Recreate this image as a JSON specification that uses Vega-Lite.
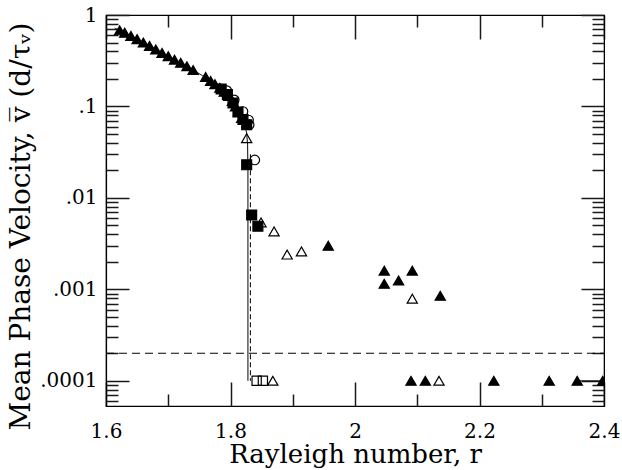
{
  "$schema": "https://vega.github.io/schema/vega-lite/v6.json",
  "width": 498,
  "height": 391,
  "autosize": "none",
  "padding": {"left": 106, "top": 15, "right": 18, "bottom": 64},
  "background": "white",
  "config": {
    "view": {"stroke": "black", "strokeWidth": 1.2},
    "font": "DejaVu Serif",
    "axis": {
      "grid": false,
      "labelColor": "black",
      "titleColor": "black",
      "labelFont": "DejaVu Serif",
      "titleFont": "DejaVu Serif",
      "labelFontSize": 20,
      "titleFontSize": 27,
      "titleFontWeight": "normal"
    }
  },
  "datasets": {
    "pts": [
      {"r": 1.622, "v": 0.68, "m": "tri", "f": "filled"},
      {"r": 1.63, "v": 0.64, "m": "tri", "f": "filled"},
      {"r": 1.64, "v": 0.59, "m": "tri", "f": "filled"},
      {"r": 1.65, "v": 0.545, "m": "tri", "f": "filled"},
      {"r": 1.66, "v": 0.5, "m": "tri", "f": "filled"},
      {"r": 1.67, "v": 0.46, "m": "tri", "f": "filled"},
      {"r": 1.68, "v": 0.42, "m": "tri", "f": "filled"},
      {"r": 1.69, "v": 0.385, "m": "tri", "f": "filled"},
      {"r": 1.7, "v": 0.355, "m": "tri", "f": "filled"},
      {"r": 1.71, "v": 0.325, "m": "tri", "f": "filled"},
      {"r": 1.72, "v": 0.3, "m": "tri", "f": "filled"},
      {"r": 1.73, "v": 0.275, "m": "tri", "f": "filled"},
      {"r": 1.74, "v": 0.25, "m": "tri", "f": "filled"},
      {"r": 1.76, "v": 0.21, "m": "tri", "f": "filled"},
      {"r": 1.768, "v": 0.19, "m": "tri", "f": "filled"},
      {"r": 1.775, "v": 0.175, "m": "tri", "f": "filled"},
      {"r": 1.783, "v": 0.16, "m": "tri", "f": "filled"},
      {"r": 1.79, "v": 0.145, "m": "tri", "f": "filled"},
      {"r": 1.797, "v": 0.13, "m": "tri", "f": "filled"},
      {"r": 1.803, "v": 0.115, "m": "tri", "f": "filled"},
      {"r": 1.808, "v": 0.1, "m": "tri", "f": "filled"},
      {"r": 1.813, "v": 0.088, "m": "tri", "f": "filled"},
      {"r": 1.818, "v": 0.075, "m": "tri", "f": "filled"},
      {"r": 1.785, "v": 0.155, "m": "sq", "f": "filled"},
      {"r": 1.795, "v": 0.135, "m": "sq", "f": "filled"},
      {"r": 1.804, "v": 0.109, "m": "sq", "f": "filled"},
      {"r": 1.812, "v": 0.087, "m": "sq", "f": "filled"},
      {"r": 1.82, "v": 0.072, "m": "sq", "f": "filled"},
      {"r": 1.826, "v": 0.063, "m": "sq", "f": "filled"},
      {"r": 1.826, "v": 0.023, "m": "sq", "f": "filled"},
      {"r": 1.834, "v": 0.0065, "m": "sq", "f": "filled"},
      {"r": 1.844, "v": 0.0049, "m": "sq", "f": "filled"},
      {"r": 1.794, "v": 0.149, "m": "circ", "f": "open"},
      {"r": 1.806, "v": 0.118, "m": "circ", "f": "open"},
      {"r": 1.82, "v": 0.088, "m": "circ", "f": "open"},
      {"r": 1.829, "v": 0.071, "m": "circ", "f": "open"},
      {"r": 1.83, "v": 0.063, "m": "circ", "f": "open"},
      {"r": 1.839, "v": 0.026, "m": "circ", "f": "open"},
      {"r": 1.826, "v": 0.045, "m": "tri", "f": "open"},
      {"r": 1.849, "v": 0.0054, "m": "tri", "f": "open"},
      {"r": 1.87, "v": 0.0043, "m": "tri", "f": "open"},
      {"r": 1.891, "v": 0.0024, "m": "tri", "f": "open"},
      {"r": 1.914, "v": 0.0026, "m": "tri", "f": "open"},
      {"r": 2.092, "v": 0.00079, "m": "tri", "f": "open"},
      {"r": 1.868, "v": 0.0001, "m": "tri", "f": "open"},
      {"r": 2.135, "v": 0.0001, "m": "tri", "f": "open"},
      {"r": 1.957, "v": 0.003, "m": "tri", "f": "filled"},
      {"r": 2.047, "v": 0.0016, "m": "tri", "f": "filled"},
      {"r": 2.047, "v": 0.00115, "m": "tri", "f": "filled"},
      {"r": 2.07, "v": 0.00125, "m": "tri", "f": "filled"},
      {"r": 2.092, "v": 0.0016, "m": "tri", "f": "filled"},
      {"r": 2.137, "v": 0.00085, "m": "tri", "f": "filled"},
      {"r": 2.09, "v": 0.0001, "m": "tri", "f": "filled"},
      {"r": 2.113, "v": 0.0001, "m": "tri", "f": "filled"},
      {"r": 2.223, "v": 0.0001, "m": "tri", "f": "filled"},
      {"r": 2.312, "v": 0.0001, "m": "tri", "f": "filled"},
      {"r": 2.357, "v": 0.0001, "m": "tri", "f": "filled"},
      {"r": 2.398, "v": 0.0001, "m": "tri", "f": "filled"},
      {"r": 1.842, "v": 0.0001, "m": "sqs", "f": "open"},
      {"r": 1.852, "v": 0.0001, "m": "sqs", "f": "open"}
    ],
    "lines": [
      {"s": "fit", "i": 0, "r": 1.614, "v": 0.72},
      {"s": "fit", "i": 1, "r": 1.65, "v": 0.545},
      {"s": "fit", "i": 2, "r": 1.7, "v": 0.355},
      {"s": "fit", "i": 3, "r": 1.74, "v": 0.25},
      {"s": "fit", "i": 4, "r": 1.76, "v": 0.207},
      {"s": "fit", "i": 5, "r": 1.78, "v": 0.165},
      {"s": "fit", "i": 6, "r": 1.79, "v": 0.146},
      {"s": "fit", "i": 7, "r": 1.8, "v": 0.125},
      {"s": "fit", "i": 8, "r": 1.81, "v": 0.101},
      {"s": "fit", "i": 9, "r": 1.818, "v": 0.079},
      {"s": "fit", "i": 10, "r": 1.823, "v": 0.063},
      {"s": "fit", "i": 11, "r": 1.826, "v": 0.051},
      {"s": "fit", "i": 12, "r": 1.8275, "v": 0.038},
      {"s": "fit", "i": 13, "r": 1.828, "v": 0.02},
      {"s": "fit", "i": 14, "r": 1.828, "v": 0.0001},
      {"s": "vd", "i": 0, "r": 1.832, "v": 0.03},
      {"s": "vd", "i": 1, "r": 1.832, "v": 0.0001},
      {"s": "hd", "i": 0, "r": 1.6, "v": 0.0002},
      {"s": "hd", "i": 1, "r": 2.4, "v": 0.0002},
      {"s": "seg", "i": 0, "r": 2.357, "v": 0.0001},
      {"s": "seg", "i": 1, "r": 2.4, "v": 0.0001}
    ]
  },
  "resolve": {"scale": {"x": "independent", "y": "independent"}},
  "layer": [
    {
      "data": {"name": "lines"},
      "mark": {"type": "line", "color": "black", "strokeWidth": 1},
      "encoding": {
        "x": {"field": "r", "type": "quantitative",
          "scale": {"domain": [1.6, 2.4], "nice": false, "zero": false},
          "axis": {"orient": "bottom", "values": [1.6, 1.8, 2, 2.2, 2.4], "format": "~g", "tickSize": -24, "tickColor": "#1a1a1a", "tickWidth": 1.5, "domainColor": "black", "domainWidth": 1.2, "labelPadding": 39, "labelFlush": false, "title": "Rayleigh number, r", "titleFontSize": 26, "titlePadding": 0}},
        "y": {"field": "v", "type": "quantitative",
          "scale": {"type": "log", "domain": [0.000053, 1], "nice": false},
          "axis": {"orient": "left", "values": [0.0001, 0.001, 0.01, 0.1, 1], "labelExpr": "replace(format(datum.value, '~g'), '0.', '.')", "tickSize": -23, "tickColor": "#1a1a1a", "tickWidth": 1.5, "domainColor": "black", "domainWidth": 1.2, "labelPadding": 32, "labelFlush": false, "title": "Mean Phase Velocity, v\u0305 (d/\u03c4\u1d65)", "titleFontSize": 28, "titleX": -71, "titleY": 211}},
        "detail": {"field": "s"},
        "order": {"field": "i"},
        "strokeDash": {"field": "s", "scale": {"domain": ["fit", "vd", "hd", "seg"], "range": [[1, 0], [5, 3], [8, 5], [1, 0]]}, "legend": null}
      }
    },
    {
      "data": {"name": "pts"},
      "mark": {"type": "point", "filled": true, "stroke": "black", "strokeWidth": 1.2, "opacity": 1, "clip": true},
      "encoding": {
        "x": {"field": "r", "type": "quantitative",
          "scale": {"domain": [1.6, 2.4], "nice": false, "zero": false},
          "axis": {"orient": "bottom", "values": [1.7, 1.9, 2.1, 2.3], "tickSize": -12, "tickColor": "#1a1a1a", "tickWidth": 1.5, "domainColor": "black", "labelExpr": "''", "title": null}},
        "y": {"field": "v", "type": "quantitative",
          "scale": {"type": "log", "domain": [0.000053, 1], "nice": false},
          "axis": {"orient": "left", "values": [0.00006, 0.00007, 0.00008, 0.00009, 0.0002, 0.0003, 0.0004, 0.0005, 0.0006, 0.0007, 0.0008, 0.0009, 0.002, 0.003, 0.004, 0.005, 0.006, 0.007, 0.008, 0.009, 0.02, 0.03, 0.04, 0.05, 0.06, 0.07, 0.08, 0.09, 0.2, 0.3, 0.4, 0.5, 0.6, 0.7, 0.8, 0.9], "tickSize": -12, "tickColor": "#1a1a1a", "tickWidth": 1.5, "domainColor": "black", "labelExpr": "''", "title": null}},
        "shape": {"field": "m", "scale": {"domain": ["tri", "sq", "circ", "sqs"], "range": ["triangle-up", "square", "circle", "square"]}, "legend": null},
        "size": {"field": "m", "type": "nominal", "scale": {"domain": ["tri", "sq", "circ", "sqs"], "range": [105, 85, 110, 50]}, "legend": null},
        "fill": {"field": "f", "scale": {"domain": ["filled", "open"], "range": ["black", "transparent"]}, "legend": null}
      }
    },
    {
      "data": {"name": "pts"},
      "mark": {"type": "point", "opacity": 0},
      "encoding": {
        "x": {"field": "r", "type": "quantitative",
          "scale": {"domain": [1.6, 2.4], "nice": false, "zero": false},
          "axis": {"orient": "top", "values": [1.6, 1.8, 2, 2.2, 2.4], "tickSize": -24, "tickColor": "#1a1a1a", "tickWidth": 1.5, "domainColor": "black", "labelExpr": "''", "title": null}},
        "y": {"field": "v", "type": "quantitative",
          "scale": {"type": "log", "domain": [0.000053, 1], "nice": false},
          "axis": {"orient": "right", "values": [0.0001, 0.001, 0.01, 0.1, 1], "tickSize": -23, "tickColor": "#1a1a1a", "tickWidth": 1.5, "domainColor": "black", "labelExpr": "''", "title": null}}
      }
    },
    {
      "data": {"name": "pts"},
      "mark": {"type": "point", "opacity": 0},
      "encoding": {
        "x": {"field": "r", "type": "quantitative",
          "scale": {"domain": [1.6, 2.4], "nice": false, "zero": false},
          "axis": {"orient": "top", "values": [1.7, 1.9, 2.1, 2.3], "tickSize": -12, "tickColor": "#1a1a1a", "tickWidth": 1.5, "domainColor": "black", "labelExpr": "''", "title": null}},
        "y": {"field": "v", "type": "quantitative",
          "scale": {"type": "log", "domain": [0.000053, 1], "nice": false},
          "axis": {"orient": "right", "values": [0.00006, 0.00007, 0.00008, 0.00009, 0.0002, 0.0003, 0.0004, 0.0005, 0.0006, 0.0007, 0.0008, 0.0009, 0.002, 0.003, 0.004, 0.005, 0.006, 0.007, 0.008, 0.009, 0.02, 0.03, 0.04, 0.05, 0.06, 0.07, 0.08, 0.09, 0.2, 0.3, 0.4, 0.5, 0.6, 0.7, 0.8, 0.9], "tickSize": -12, "tickColor": "#1a1a1a", "tickWidth": 1.5, "domainColor": "black", "labelExpr": "''", "title": null}}
      }
    }
  ]
}
